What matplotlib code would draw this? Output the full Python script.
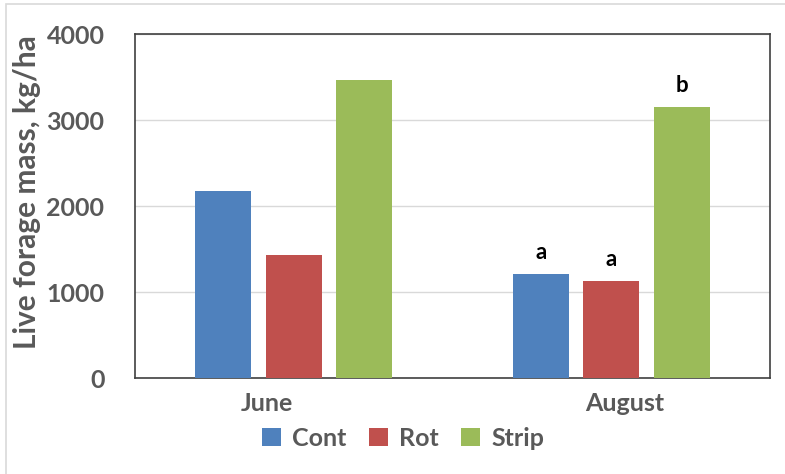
import numpy as np
import matplotlib.pyplot as plt
import matplotlib.transforms as mtransforms
from matplotlib.patches import Rectangle

months = ["June", "August"]
series = ["Cont", "Rot", "Strip"]
cont = [2170, 1215]
rot = [1430, 1125]
strip = [3470, 3150]
letters_aug = ["a", "a", "b"]
colors = ["#4f81bd", "#c0504d", "#9bbb59"]
yticks = [0, 1000, 2000, 3000, 4000]

plt.rcParams['font.family'] = ['Lato', 'DejaVu Sans']
grey = "#595959"

fig = plt.figure(figsize=(7.85, 4.74), dpi=100)
ax = fig.add_axes([135/785, 1-378/474, 635/785, 344/474])

x = np.arange(len(months))
width = 0.176
pitch = 0.222
values = [cont, rot, strip]
for i, (name, vals) in enumerate(zip(series, values)):
    ax.bar(x + (i - 1) * pitch, vals, width, color=colors[i], label=name, zorder=3)

# significance letters over August bars
for i, vals in enumerate(values):
    ax.annotate(letters_aug[i], (x[1] + (i - 1) * pitch, vals[1]), xytext=(0, 15),
                textcoords='offset pixels', ha='center', va='baseline',
                fontsize=16, fontweight='bold', color='black')

ax.set_xlim(-0.5, 1.5)
ax.set_ylim(0, 4000)
ax.set_yticks(yticks)
ax.set_yticklabels([str(t) for t in yticks], fontsize=18, fontweight='bold', color=grey)
ax.set_xticks(x)
ax.set_xticklabels(months, fontsize=18, fontweight='bold', color=grey)
ax.tick_params(axis='both', length=0)
ax.tick_params(axis='x', pad=10)
ax.tick_params(axis='y', pad=22)
# month labels sit a little off the group centres in the original
for lab, dx in zip(ax.get_xticklabels(), [-27, 13]):
    lab.set_transform(lab.get_transform() + mtransforms.ScaledTranslation(dx/100, 0, fig.dpi_scale_trans))
ax.grid(axis='y', color='#d9d9d9', linewidth=1, zorder=0)
for s in ax.spines.values():
    s.set_color('#404040')
    s.set_linewidth(1.2)

ax.set_ylabel("Live forage mass, kg/ha", fontsize=21.5, fontweight='bold', color=grey)
ax.yaxis.set_label_coords(-0.148, 0.54)

leg = fig.legend(loc='center', bbox_to_anchor=(403/785, 1-438/474), ncol=3, frameon=False,
                 prop={'size': 18, 'weight': 'bold'}, handlelength=0.75, handleheight=0.75,
                 handletextpad=0.45, columnspacing=0.9)
for t in leg.get_texts():
    t.set_color(grey)

# light frame of the chart area
fig.patches.append(Rectangle((6/785, -0.1), 1.2, 1 - 4/474 + 0.1, transform=fig.transFigure,
                             fill=False, edgecolor='#d9d9d9', linewidth=1.2))

fig.savefig("out.png", dpi=100)
